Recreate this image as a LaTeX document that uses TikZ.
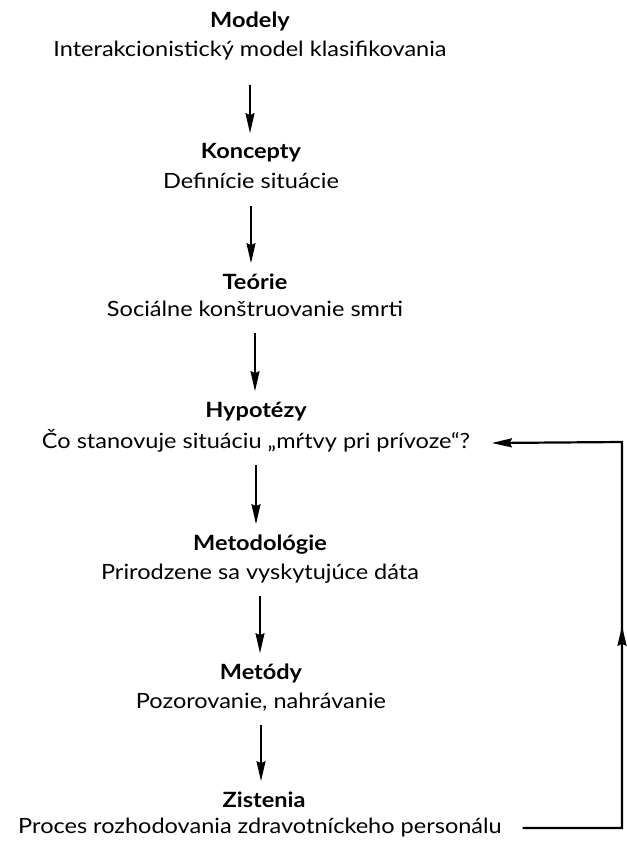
\documentclass[tikz,border=0pt]{standalone}
\usepackage{fontspec}
\setmainfont{Lato}[FakeStretch=1.12]
\usetikzlibrary{arrows.meta,positioning,decorations.markings}

\begin{document}
\begin{tikzpicture}[x=1pt, y=-1pt, >={Stealth[length=20pt,width=9pt,inset=2pt]}, line width=1.7pt]
	\tikzstyle{ttl}=[font=\fontsize{21}{25}\selectfont\bfseries, inner sep=0pt, text height=15pt, text depth=5pt, anchor=base]
	\tikzstyle{sub}=[font=\fontsize{21}{25}\selectfont, inner sep=0pt, text height=15pt, text depth=5pt, anchor=base]
	\tikzstyle{flow}=[->, shorten <=11pt, shorten >=10pt]
	\tikzstyle{fb}=[->, line width=2.2pt, postaction={decorate}, decoration={markings, mark=at position 0.49 with {\arrow{>}}}]
	\useasboundingbox (0,0) rectangle (626,845);
	% steps of the research
	\node[ttl] (modely)   at (250,28)  {Modely};
	\node[sub] (modelyS)  at (250,57)  {Interakcionistický model klasifikovania};
	\node[ttl] (koncepty) at (251,159) {Koncepty};
	\node[sub] (konceptyS) at (251,189) {Definície situácie};
	\node[ttl] (teorie)   at (255,289) {Teórie};
	\node[sub] (teorieS)  at (255,316) {Sociálne konštruovanie smrti};
	\node[ttl] (hyp)      at (256,417) {Hypotézy};
	\node[sub] (hypS)     at (256,448) {Čo stanovuje situáciu „mŕtvy pri prívoze“?};
	\node[ttl] (metod)    at (260,550) {Metodológie};
	\node[sub] (metodS)   at (260,579) {Prirodzene sa vyskytujúce dáta};
	\node[ttl] (metody)   at (261,679) {Metódy};
	\node[sub] (metodyS)  at (261,708) {Pozorovanie, nahrávanie};
	\node[ttl] (zist)     at (264,807) {Zistenia};
	\node[sub] (zistS)    at (260,833) {Proces rozhodovania zdravotníckeho personálu};
	\draw[flow, shorten <=22pt] (modelyS.south) -- (modelyS.south |- koncepty.north);
	\draw[flow] (konceptyS.south) -- (konceptyS.south |- teorie.north);
	\draw[flow] (teorieS.south) -- (teorieS.south |- hyp.north);
	\draw[flow] (hypS.south) -- (hypS.south |- metod.north);
	\draw[flow] (metodS.south) -- (metodS.south |- metody.north);
	\draw[flow] (metodyS.south) -- (metodyS.south |- zist.north);
	% feedback loop
	\coordinate (fbTop) at (622,442);
	\draw[fb] ([xshift=20pt]zistS.east) -| (fbTop) -- ([xshift=21pt]hypS.east);
\end{tikzpicture}
\end{document}
